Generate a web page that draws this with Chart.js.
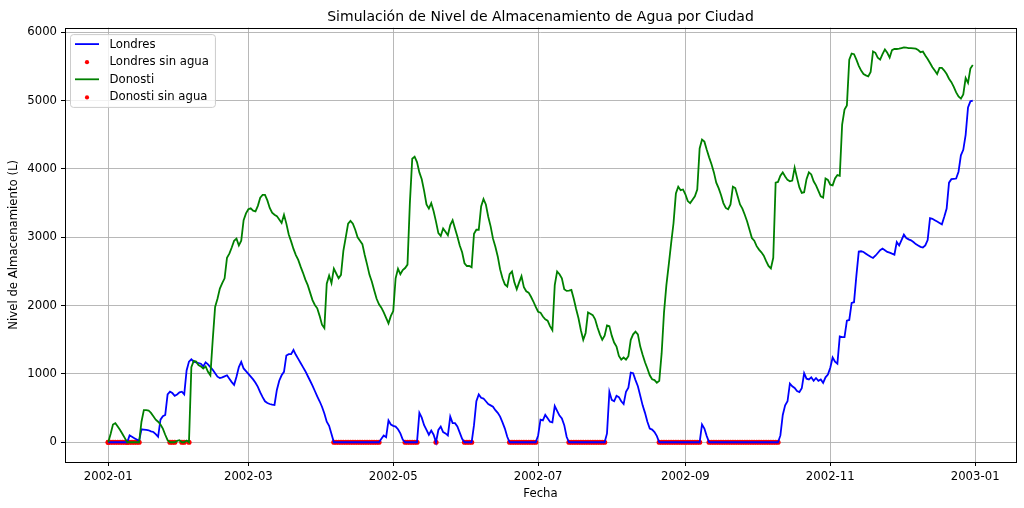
<!DOCTYPE html>
<html>
<head>
<meta charset="utf-8">
<title>Nivel de Almacenamiento de Agua</title>
<script src="https://cdn.jsdelivr.net/npm/chart.js@4.4.1/dist/chart.umd.min.js"></script>
<style>
  html, body { margin: 0; padding: 0; background: #fff; }
  canvas { display: block; }
</style>
</head>
<body>
<canvas id="grafico" width="1024" height="508"></canvas>
<script>
// datos diarios de 2002 (un valor por día desde el 1 de enero)
const inicio = '2002-01-01';
const titulo = 'Simulación de Nivel de Almacenamiento de Agua por Ciudad';

const londres = [
  0,0,0,0,0,0,0,0,0, 100,80,60,40,20,
  190,185,180,175,160,150,120,80, 330,380,400,
  700,740,720,680,700,730,740,700,
  1050,1180,1215,1180,1170,1160,1150,1110,1170,1140,1100,1060,1010,960,940,
  950,965,980,930,880,840,960,1100,1175,1080,1040,1000,
  960,920,870,810,730,660,600,575,560,550,546,
  766,900,980,1030,1270,1290,1290,1350,1280,1220,
  1160,1100,1040,970,900,830,750,670,600,520,420,300,240,120,
  0,0,0,0,0,0,0,0,0,0,0,0,0,0,0,0,0,0,0,0,
  50,100,75,320,260,240,230,190,130,40,
  0,0,0,0,0,0,
  430,360,250,180,110,170,110,
  0,
  180,230,150,130,100,375,280,280,230,140,50,
  0,0,0,0,
  250,600,700,650,640,600,560,540,520,470,430,375,290,200,80,
  0,0,0,0,0,0,0,0,0,0,0,0,
  100,330,320,400,350,300,290,530,460,390,350,250,80,
  0,0,0,0,0,0,0,0,0,0,0,0,0,0,0,0,
  130,740,620,600,680,660,600,560,740,800,1020,1010,910,820,680,540,430,300,200,185,150,90,
  0,0,0,0,0,0,0,0,0,0,0,0,0,0,0,0,0,0,
  260,200,90,
  0,0,0,0,0,0,0,0,0,0,0,0,0,0,0,0,0,0,0,0,0,0,0,0,0,0,0,0,0,0,
  100,400,540,600,860,820,795,750,735,790,1010,930,920,950,900,940,900,920,870,950,
  990,1090,1240,1180,1150,1550,1540,1540,1780,1790,2040,2050,2440,2790,
  2795,2785,2760,2736,2715,2697,2730,2770,2810,2834,2810,2785,2775,2760,2746,
  2930,2880,2960,3040,2990,2970,2956,2930,2900,2880,2860,2850,2880,2960,
  3280,3270,3250,3230,3210,3190,3300,3420,3800,3850,3855,3860,3960,4200,4280,4500,4900,4990,5000
];

const donosti = [
  0,120,260,280,230,180,120,60,0, 0,0,0,0,0,
  300,470,470,465,430,380,330,300,260,200,110,30,
  0,0,0,20,30,0,0,25,0,
  1100,1190,1180,1130,1110,1080,1110,1030,980,1500,1980,2100,2250,
  2330,2400,2700,2760,2850,2950,2980,2880,2950,3250,3350,3410,3425,
  3390,3380,3460,3580,3620,3620,3540,3430,3360,3330,3310,3260,3210,3330,
  3200,3040,2940,2830,2740,2670,2570,2480,2380,2300,2190,2080,2010,1960,1850,1720,1670,
  2320,2440,2330,2540,2470,2400,2450,
  2800,3000,3200,3240,3200,3110,3000,2950,2900,2740,2600,2450,2350,2220,2100,2020,1970,1900,1820,1740,
  1850,1920,2400,2540,2460,2520,2550,2600,
  3500,4150,4180,4100,3950,3850,3680,3480,3420,3500,3380,3230,3060,3020,3130,3080,3030,3180,3250,3130,
  3010,2880,2780,2620,2580,2580,2560,
  3050,3110,3110,3450,3560,3480,3300,3160,2980,2860,2720,2530,2400,2310,2280,2460,2500,2340,2240,2340,
  2430,2270,2210,2190,2130,2060,1980,1910,1897,1840,1800,1780,1700,1640,
  2300,2500,2460,2400,2240,2215,2220,2230,2100,1950,1815,1640,1500,1600,1900,1880,1860,1800,1680,1580,
  1500,1560,1710,1700,1560,1460,1400,1263,1210,1240,1210,1260,1500,1580,1620,1580,1400,1280,1170,1080,
  980,922,910,870,900,
  1300,1900,2300,2600,2912,3205,3640,3740,3690,3700,3630,3530,3500,3550,3600,3700,4300,4430,4400,4280,
  4170,4070,3950,3800,3720,3620,3500,3430,3410,3480,3740,3720,3600,3480,3420,3330,3230,3110,2990,2950,
  2870,2820,2780,2730,2650,2580,2545,2700,3800,3810,3900,3950,3890,3840,
  3820,3830,4020,3870,3730,3650,3660,3850,3950,3920,3820,3760,3680,3600,3580,3860,3840,3770,3760,3860,
  3910,3900,4650,4870,4930,5600,5690,5680,5600,5510,5440,5390,5370,5356,5420,5720,5700,5630,5600,5680,
  5750,5700,5630,5740,5756,5756,5760,5770,5780,5775,5770,5770,5765,5760,5740,5710,5720,5660,5610,5550,
  5490,5440,5390,5480,5480,5440,5390,5320,5270,5200,5120,5060,5030,5090,5330,5260,5470,5520
];

const ticksFecha = ['2002-01', '2002-03', '2002-05', '2002-07', '2002-09', '2002-11', '2003-01'];
const ticksNivel = [0, 1000, 2000, 3000, 4000, 5000, 6000];

const DIA = 86400000;
const t0 = Date.parse(inicio);
function diaDe(mes) {
  return (Date.parse(mes + '-01') - t0) / DIA;
}

// puntos para las series y para los días sin agua
const puntos = arr => arr.map((v, i) => ({ x: i, y: v }));
const sinAgua = arr => arr.map((v, i) => ({ x: i, y: v })).filter(p => p.y === 0);

// márgenes automáticos del 5% como en matplotlib
const n = londres.length - 1;
const todos = londres.concat(donosti);
const yMin = Math.min(...todos), yMax = Math.max(...todos);
const mx = n * 0.05, my = (yMax - yMin) * 0.05;

const fuente = { family: 'DejaVu Sans', size: 11.7 };
const radioPunto = 2.6;

const decorado = {
  id: 'decorado',
  afterDraw(chart) {
    const { ctx, chartArea: a } = chart;
    ctx.save();

    // título
    ctx.fillStyle = '#000';
    ctx.font = '14px "DejaVu Sans"';
    ctx.textAlign = 'center';
    ctx.textBaseline = 'alphabetic';
    ctx.fillText(titulo, (a.left + a.right) / 2, a.top - 7);

    // marco de los ejes
    ctx.strokeStyle = '#000';
    ctx.lineWidth = 1;
    const l = Math.round(a.left) + 0.5, t = Math.round(a.top) + 0.5;
    ctx.strokeRect(l, t, Math.round(a.right) - Math.round(a.left), Math.round(a.bottom) - Math.round(a.top));

    // leyenda
    const sets = chart.data.datasets;
    ctx.font = '11.7px "DejaVu Sans"';
    let ancho = 0;
    sets.forEach(d => { ancho = Math.max(ancho, ctx.measureText(d.label).width); });
    const bx = a.left + 5, by = a.top + 6.5;
    const fila = 17.6;
    const bw = 39.5 + ancho + 6, bh = 20 + fila * (sets.length - 1);
    ctx.beginPath();
    if (ctx.roundRect) ctx.roundRect(bx + 0.5, by + 0.5, bw, bh, 3);
    else ctx.rect(bx + 0.5, by + 0.5, bw, bh);
    ctx.fillStyle = 'rgba(255,255,255,0.8)';
    ctx.fill();
    ctx.strokeStyle = '#cccccc';
    ctx.stroke();

    sets.forEach((d, i) => {
      const cy = by + 10 + i * fila;
      if (d.type === 'scatter') {
        ctx.beginPath();
        ctx.arc(bx + 17, cy + 0.5, 2.1, 0, Math.PI * 2);
        ctx.fillStyle = d.backgroundColor;
        ctx.fill();
      } else {
        ctx.beginPath();
        ctx.moveTo(bx + 5, cy);
        ctx.lineTo(bx + 29, cy);
        ctx.strokeStyle = d.borderColor;
        ctx.lineWidth = 1.8;
        ctx.stroke();
      }
      ctx.fillStyle = '#000';
      ctx.textAlign = 'left';
      ctx.textBaseline = 'middle';
      ctx.fillText(d.label, bx + 39.5, cy + 0.5);
    });

    ctx.restore();
  }
};

const rejilla = { color: '#b0b0b0', lineWidth: 0.9, tickColor: '#000', tickLength: 4, tickWidth: 1 };

new Chart(document.getElementById('grafico'), {
  type: 'line',
  data: {
    datasets: [
      { label: 'Londres', data: puntos(londres), borderColor: '#0000ff', borderWidth: 1.8,
        pointRadius: 0, tension: 0, fill: false, order: 2 },
      { type: 'scatter', label: 'Londres sin agua', data: sinAgua(londres), backgroundColor: '#ff0000',
        borderWidth: 0, pointRadius: radioPunto, order: 3 },
      { label: 'Donosti', data: puntos(donosti), borderColor: '#008000', borderWidth: 1.8,
        pointRadius: 0, tension: 0, fill: false, order: 1 },
      { type: 'scatter', label: 'Donosti sin agua', data: sinAgua(donosti), backgroundColor: '#ff0000',
        borderWidth: 0, pointRadius: radioPunto, order: 3 }
    ]
  },
  options: {
    responsive: false,
    animation: false,
    devicePixelRatio: 1,
    layout: { padding: { top: 27.6, right: 8, bottom: 0, left: 0 } },
    plugins: { legend: { display: false }, tooltip: { enabled: false }, title: { display: false } },
    scales: {
      x: {
        type: 'linear',
        min: -mx, max: n + mx,
        afterBuildTicks: s => { s.ticks = ticksFecha.map(m => ({ value: diaDe(m) })); },
        afterFit: s => { s.height = 46; },
        ticks: { callback: (v, i) => ticksFecha[i], font: fuente, color: '#000', padding: 4,
                 autoSkip: false, maxRotation: 0 },
        grid: rejilla,
        border: { display: false },
        title: { display: true, text: 'Fecha', font: fuente, color: '#000', padding: { top: 0, bottom: 7 } }
      },
      y: {
        type: 'linear',
        min: yMin - my, max: yMax + my,
        afterBuildTicks: s => { s.ticks = ticksNivel.map(v => ({ value: v })); },
        afterFit: s => { s.width = 65; },
        ticks: { callback: v => String(v), font: fuente, color: '#000', padding: 4 },
        grid: rejilla,
        border: { display: false },
        title: { display: true, text: 'Nivel de Almacenamiento (L)', font: fuente, color: '#000',
                 padding: { top: 7, bottom: 0 } }
      }
    }
  },
  plugins: [decorado]
});
</script>
</body>
</html>
